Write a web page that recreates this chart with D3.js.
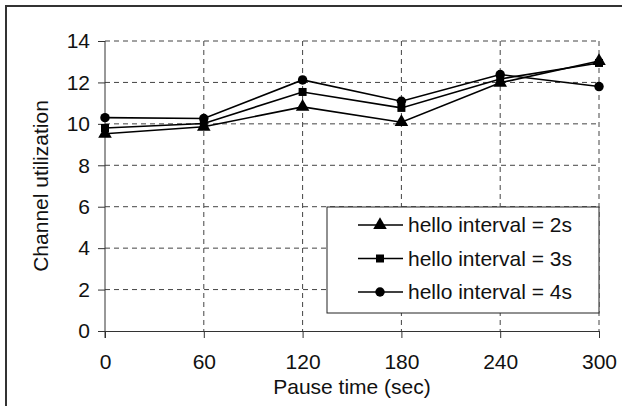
<!DOCTYPE html>
<html>
<head>
<meta charset="utf-8">
<script src="https://cdn.jsdelivr.net/npm/d3@7"></script>
<style>
  body { margin: 0; background: #fff; }
  text { font-family: "Liberation Sans", Arial, sans-serif; fill: #111; }
</style>
</head>
<body>
<svg id="chart" width="626" height="406"></svg>
<script>
// data
var pauseTimes = [0, 60, 120, 180, 240, 300];
var yTicks = [0, 2, 4, 6, 8, 10, 12, 14];
var hello2s = [9.52, 9.86, 10.82, 10.08, 11.98, 13.03];
var hello3s = [9.8, 10.02, 11.54, 10.77, 12.17, 12.94];
var hello4s = [10.3, 10.26, 12.12, 11.09, 12.38, 11.8];
var seriesNames = ["hello interval = 2s", "hello interval = 3s", "hello interval = 4s"];
var seriesShapes = ["triangle", "square", "circle"];

var series = [hello2s, hello3s, hello4s].map(function (vals, i) {
  return {
    name: seriesNames[i],
    shape: seriesShapes[i],
    values: vals.map(function (v, j) { return { t: pauseTimes[j], v: v }; })
  };
});

var margin = { top: 41, right: 27, bottom: 75, left: 105 },
  width = 626 - margin.left - margin.right,
  height = 406 - margin.top - margin.bottom;

var svg = d3.select("#chart");

// outer frame (only top and left edges are visible)
svg.append("path")
  .attr("d", "M6,406V6H622")
  .attr("fill", "none")
  .attr("stroke", "#333")
  .attr("stroke-width", 2);

var g = svg.append("g")
  .attr("transform", "translate(" + margin.left + "," + margin.top + ")");

var x = d3.scaleLinear().domain([0, 300]).range([0, width]);
var y = d3.scaleLinear().domain([0, 14]).range([height, 0]);

// dashed grid
g.append("g").selectAll("line.hg")
  .data(yTicks.filter(function (d) { return d > 0; })).enter()
  .append("line")
  .attr("x1", 0).attr("x2", width)
  .attr("y1", function (d) { return y(d); })
  .attr("y2", function (d) { return y(d); })
  .attr("stroke", "#444")
  .attr("stroke-dasharray", "5,4");

g.append("g").selectAll("line.vg")
  .data(pauseTimes.filter(function (d) { return d > 0; })).enter()
  .append("line")
  .attr("y1", 0).attr("y2", height)
  .attr("x1", function (d) { return x(d); })
  .attr("x2", function (d) { return x(d); })
  .attr("stroke", "#444")
  .attr("stroke-dasharray", "5,4");

// axes
var xAxis = d3.axisBottom(x).tickValues(pauseTimes).tickSizeInner(7).tickSizeOuter(0).tickPadding(16);
var yAxis = d3.axisLeft(y).tickValues(yTicks).tickSizeInner(7).tickSizeOuter(0).tickPadding(8);

var gx = g.append("g")
  .attr("transform", "translate(0," + height + ")")
  .call(xAxis);
var gy = g.append("g").call(yAxis);

[gx, gy].forEach(function (ax) {
  ax.select(".domain").attr("stroke", "#333");
  ax.selectAll(".tick line").attr("stroke", "#333");
  ax.selectAll(".tick text")
    .style("font-family", "'Liberation Sans', Arial, sans-serif")
    .style("font-size", "21px")
    .attr("fill", "#111");
});
// y axis line runs down through the x tick length
gy.select(".domain").attr("d", "M0,0V" + (height + 7));

// axis titles
g.append("text")
  .attr("x", width / 2)
  .attr("y", height + 63)
  .attr("text-anchor", "middle")
  .style("font-size", "21px")
  .text("Pause time (sec)");

g.append("text")
  .attr("transform", "translate(-57," + (height / 2) + ") rotate(-90)")
  .attr("text-anchor", "middle")
  .style("font-size", "21px")
  .text("Channel utilization");

// lines
var line = d3.line()
  .x(function (d) { return x(d.t); })
  .y(function (d) { return y(d.v); });

g.selectAll("path.series")
  .data(series).enter()
  .append("path")
  .attr("class", "series")
  .attr("d", function (d) { return line(d.values); })
  .attr("fill", "none")
  .attr("stroke", "#000")
  .attr("stroke-width", 1.6);

var symbolMap = { triangle: d3.symbolTriangle, square: d3.symbolSquare, circle: d3.symbolCircle };
var symbolSize = { triangle: 80, square: 64, circle: 70 };

function drawMarker(sel, shape) {
  sel.append("path")
    .attr("d", d3.symbol().type(symbolMap[shape]).size(symbolSize[shape])())
    .attr("fill", "#000");
}

series.forEach(function (s) {
  g.selectAll(null)
    .data(s.values).enter()
    .append("g")
    .attr("transform", function (d) { return "translate(" + x(d.t) + "," + y(d.v) + ")"; })
    .each(function () { drawMarker(d3.select(this), s.shape); });
});

// legend
var legend = g.append("g").attr("transform", "translate(" + (327 - margin.left) + "," + (207 - margin.top) + ")");
legend.append("rect")
  .attr("x", 0).attr("y", 0)
  .attr("width", 272).attr("height", 106)
  .attr("fill", "#fff")
  .attr("stroke", "#222");

var items = legend.selectAll("g.item")
  .data(series).enter()
  .append("g")
  .attr("transform", function (d, i) { return "translate(0," + (18 + i * 33.5) + ")"; });
items.append("line")
  .attr("x1", 31).attr("x2", 76)
  .attr("stroke", "#000").attr("stroke-width", 1.6);
items.append("g")
  .attr("transform", "translate(53,0)")
  .each(function (d) { drawMarker(d3.select(this), d.shape); });
items.append("text")
  .attr("x", 81)
  .attr("dy", "0.35em")
  .style("font-size", "21px")
  .text(function (d) { return d.name; });
</script>
</body>
</html>
